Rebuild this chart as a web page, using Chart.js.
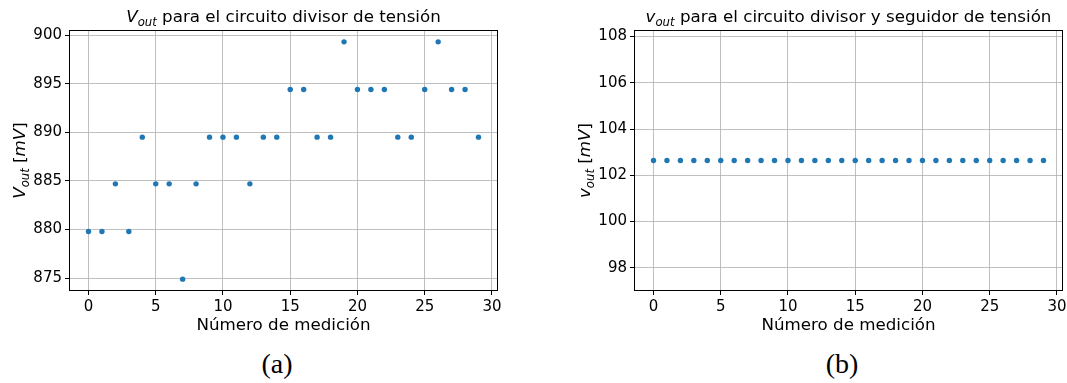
<!DOCTYPE html>
<html>
<head>
<meta charset="utf-8">
<script src="https://cdn.jsdelivr.net/npm/chart.js@4/dist/chart.umd.min.js"></script>
<style>
body{margin:0;background:#fff;width:1067px;height:383px;position:relative;overflow:hidden}
canvas{position:absolute;top:0}
.cap{position:absolute;top:348px;line-height:32px;font-family:"Liberation Serif",serif;font-size:28px;color:#000;transform:translateX(-50%)}
</style>
</head>
<body>
<canvas id="c1" width="533" height="340" style="left:0"></canvas>
<canvas id="c2" width="550" height="340" style="left:533px"></canvas>
<div class="cap" style="left:277px">(a)</div>
<div class="cap" style="left:842px">(b)</div>
<script>
// numero de medicion
var medicion = [0,1,2,3,4,5,6,7,8,9,10,11,12,13,14,15,16,17,18,19,20,21,22,23,24,25,26,27,28,29];
// Vout divisor de tension [mV]
var vDivisor = [879.8,879.8,884.7,879.8,889.5,884.7,884.7,874.9,884.7,889.5,
                889.5,889.5,884.7,889.5,889.5,894.4,894.4,889.5,889.5,899.3,
                894.4,894.4,894.4,889.5,889.5,894.4,899.3,894.4,894.4,889.5];
// vout divisor + seguidor [mV]
var vSeguidor = [102.64,102.64,102.64,102.64,102.64,102.64,102.64,102.64,102.64,102.64,
                 102.64,102.64,102.64,102.64,102.64,102.64,102.64,102.64,102.64,102.64,
                 102.64,102.64,102.64,102.64,102.64,102.64,102.64,102.64,102.64,102.64];
var xTicks = [0,5,10,15,20,25,30];
var yTicksDivisor = [875,880,885,890,895,900];
var yTicksSeguidor = [98,100,102,104,106,108];

var FONT = 'DejaVu Sans';
var SIZE = 16.7;

function points(ys){
  var out = [];
  for (var i = 0; i < medicion.length; i++) out.push({x: medicion[i], y: ys[i]});
  return out;
}

function drawRuns(ctx, runs){
  var total = 0;
  runs.forEach(function(r){
    ctx.font = (r.it ? 'italic ' : '') + (r.sub ? SIZE*0.7 : SIZE) + 'px "' + FONT + '"';
    r.w = ctx.measureText(r.t).width;
    total += r.w;
  });
  var x = -total/2;
  runs.forEach(function(r){
    ctx.font = (r.it ? 'italic ' : '') + (r.sub ? SIZE*0.7 : SIZE) + 'px "' + FONT + '"';
    ctx.fillText(r.t, x, r.sub ? SIZE*0.25 : 0);
    x += r.w;
  });
}

// titulo, etiqueta y y marco
var decor = {
  id: 'decor',
  afterDraw: function(chart){
    var ctx = chart.ctx, a = chart.chartArea, o = chart.options.plugins.decor;
    ctx.save();
    ctx.strokeStyle = '#000';
    ctx.lineWidth = 1;
    ctx.strokeRect(Math.round(a.left)+0.5, Math.round(a.top)+0.5,
                   Math.round(a.right)-Math.round(a.left)-1, Math.round(a.bottom)-Math.round(a.top)-1);
    ctx.fillStyle = '#000';
    ctx.textBaseline = 'alphabetic';
    ctx.textAlign = 'left';
    ctx.save();
    ctx.translate((a.left + a.right)/2, 22);
    drawRuns(ctx, o.title);
    ctx.restore();
    ctx.save();
    ctx.translate(a.left - 44, (a.top + a.bottom)/2);
    ctx.rotate(-Math.PI/2);
    drawRuns(ctx, o.ylabel);
    ctx.restore();
    ctx.restore();
  }
};

function makeChart(id, ys, yTicks, ymin, ymax, yWidth, padRight, title, ylabel){
  return new Chart(document.getElementById(id), {
    type: 'scatter',
    data: {
      datasets: [{
        data: points(ys),
        backgroundColor: '#1f77b4',
        borderWidth: 0,
        pointRadius: 2.7,
        pointHoverRadius: 2.7
      }]
    },
    options: {
      responsive: false,
      devicePixelRatio: 1,
      animation: false,
      events: [],
      layout: {padding: {top: 30, right: padRight, left: 0, bottom: 4}},
      plugins: {
        legend: {display: false},
        tooltip: {enabled: false},
        decor: {title: title, ylabel: ylabel}
      },
      scales: {
        x: {
          type: 'linear', min: -1.45, max: 30.45,
          afterBuildTicks: function(s){ s.ticks = xTicks.map(function(v){ return {value: v}; }); },
          afterFit: function(s){ s.height = 45; },
          border: {display: false},
          grid: {color: '#b0b0b0', lineWidth: 0.8, tickColor: '#000', tickWidth: 1, tickLength: 4},
          ticks: {color: '#000', font: {family: FONT, size: 15}, padding: 3, maxRotation: 0, autoSkip: false},
          title: {display: true, text: 'Número de medición', color: '#000',
                  font: {family: FONT, size: SIZE, lineHeight: 1.2}, padding: 0}
        },
        y: {
          type: 'linear', min: ymin, max: ymax,
          afterBuildTicks: function(s){ s.ticks = yTicks.map(function(v){ return {value: v}; }); },
          afterFit: function(s){ s.width = yWidth; },
          border: {display: false},
          grid: {color: '#b0b0b0', lineWidth: 0.8, tickColor: '#000', tickWidth: 1, tickLength: 4},
          ticks: {color: '#000', font: {family: FONT, size: 15}, padding: 3}
        }
      }
    },
    plugins: [decor]
  });
}

makeChart('c1', vDivisor, yTicksDivisor, 873.68, 900.52, 69, 35,
  [{t:'V', it:true}, {t:'out', it:true, sub:true}, {t:' para el circuito divisor de tensión'}],
  [{t:'V', it:true}, {t:'out', it:true, sub:true}, {t:' ['}, {t:'mV', it:true}, {t:']'}]);

makeChart('c2', vSeguidor, yTicksSeguidor, 97.0, 108.28, 101, 20,
  [{t:'v', it:true}, {t:'out', it:true, sub:true}, {t:' para el circuito divisor y seguidor de tensión'}],
  [{t:'v', it:true}, {t:'out', it:true, sub:true}, {t:' ['}, {t:'mV', it:true}, {t:']'}]);
</script>
</body>
</html>
